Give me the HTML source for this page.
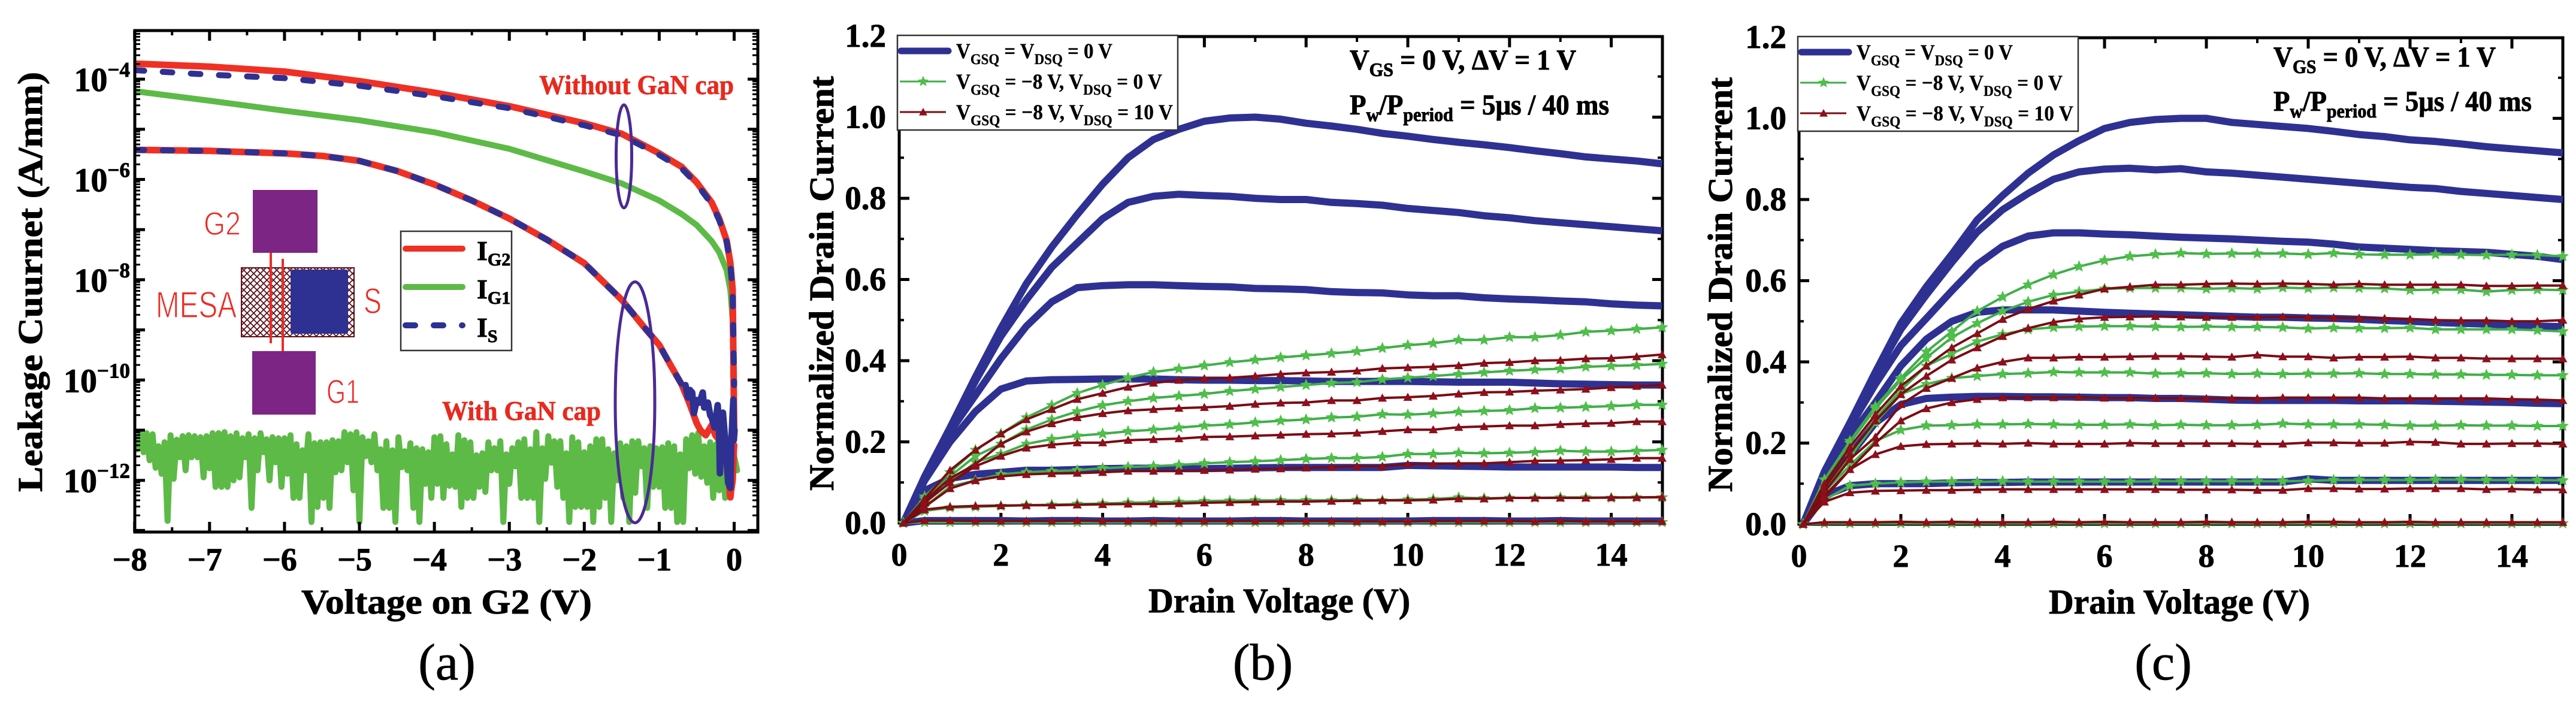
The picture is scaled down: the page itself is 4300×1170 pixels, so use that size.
<!DOCTYPE html>
<html lang="en">
<head>
<meta charset="utf-8">
<title>Leakage current and pulsed drain current characteristics</title>
<style>
html,body{margin:0;padding:0;background:#fff;width:4300px;height:1170px;overflow:hidden}
svg{display:block}
text{font-family:"Liberation Serif",serif;fill:#000}
.b{font-weight:bold;stroke:#000;stroke-width:0.9px}
.inset-text{font-family:"Liberation Sans",sans-serif;fill:#ee2a24;stroke:#fff;stroke-width:1.4px}
.red-note{fill:#e8291e;stroke:#e8291e;stroke-width:0.7px}
</style>
</head>
<body>
<svg id="fig" xmlns="http://www.w3.org/2000/svg" width="4300" height="1170" viewBox="0 0 4300 1170">
<defs>
<pattern id="hatch" width="11" height="11" patternUnits="userSpaceOnUse">
<rect width="11" height="11" fill="#fff"/>
<path d="M-1 1L1 -1M0 11L11 0M10 12L12 10M-1 10L1 12M0 0L11 11M10 -1L12 1" stroke="#5a0f18" stroke-width="1.8"/>
</pattern>
<clipPath id="clipA"><rect x="225" y="51" width="1040" height="837"/></clipPath>
</defs>
<g id="panelA"></g>
<g id="panelB"></g>
<g id="panelC"></g>

<g>
<rect x="422" y="317" width="108" height="105" fill="#7d2585"/>
<rect x="421" y="586" width="106" height="106" fill="#7d2585"/>
<rect x="403" y="447" width="188" height="115" fill="url(#hatch)" stroke="#5a0f18" stroke-width="2"/>
<rect x="485" y="450" width="96" height="107" rx="3" fill="#2e3192"/>
<line x1="452" y1="422" x2="452" y2="573" stroke="#ee2a24" stroke-width="4"/>
<line x1="472" y1="432" x2="472" y2="586" stroke="#ee2a24" stroke-width="4"/>
<text class="inset-text" x="260" y="530" font-size="62" textLength="135" lengthAdjust="spacingAndGlyphs">MESA</text>
<text class="inset-text" x="607" y="523" font-size="60" textLength="30" lengthAdjust="spacingAndGlyphs">S</text>
<text class="inset-text" x="545" y="673" font-size="57" textLength="55" lengthAdjust="spacingAndGlyphs">G1</text>
<text class="inset-text" x="340" y="392" font-size="55" textLength="62" lengthAdjust="spacingAndGlyphs">G2</text>
</g>

<text class="b red-note" x="900" y="157" font-size="45" textLength="325" lengthAdjust="spacingAndGlyphs">Without GaN cap</text>
<text class="b red-note" x="738" y="701" font-size="45" textLength="265" lengthAdjust="spacingAndGlyphs">With GaN cap</text>
<ellipse cx="1041.5" cy="261" rx="13" ry="86" fill="none" stroke="#4b2a96" stroke-width="5"/>
<ellipse cx="1060" cy="671.5" rx="33" ry="201" fill="none" stroke="#4b2a96" stroke-width="5"/>

<g>
<rect x="669" y="386" width="185" height="199" fill="#fff" stroke="#333" stroke-width="2.5"/>
<line x1="677" y1="415" x2="772" y2="415" stroke="#ee3124" stroke-width="10" stroke-linecap="round"/>
<line x1="677" y1="479" x2="772" y2="479" stroke="#5dba47" stroke-width="10" stroke-linecap="round"/>
<line x1="677" y1="543" x2="772" y2="543" stroke="#2e3192" stroke-width="10" stroke-linecap="round" stroke-dasharray="16 31"/>
<text class="b" x="796" y="434" font-size="46">I<tspan font-size="30" dy="9">G2</tspan></text>
<text class="b" x="796" y="498" font-size="46">I<tspan font-size="30" dy="9">G1</tspan></text>
<text class="b" x="796" y="562" font-size="46">I<tspan font-size="30" dy="9">S</tspan></text>
</g>

<text x="746" y="1134" font-size="86" text-anchor="middle" style="stroke:#000;stroke-width:0.8px">(a)</text>
<text x="2108" y="1134" font-size="86" text-anchor="middle" style="stroke:#000;stroke-width:0.8px">(b)</text>
<text x="3611" y="1134" font-size="86" text-anchor="middle" style="stroke:#000;stroke-width:0.8px">(c)</text>

<script>
// ---------- Panel (a) data: log10 of current (A/mm) ----------
const aTickVoltages = [-8,-7,-6,-5,-4,-3,-2,-1,0];
const aTickExponents = [-4,-6,-8,-10,-12];
const noCapVoltages = [-8,-7,-6,-5,-4,-3,-2,-1.5,-1,-0.7,-0.5,-0.3,-0.2,-0.1,-0.05,-0.02,0];
const noCapIG2 = [-3.69,-3.75,-3.85,-4.04,-4.27,-4.54,-4.88,-5.09,-5.48,-5.75,-6.06,-6.46,-6.78,-7.22,-7.67,-8.2,-11];
const noCapIS = [-3.82,-3.91,-3.98,-4.13,-4.34,-4.58,-4.92,-5.12,-5.51,-5.78,-6.09,-6.49,-6.81,-7.25,-7.7,-8.25,-10.1];
const noCapIG1 = [-4.24,-4.43,-4.63,-4.82,-5.06,-5.39,-5.84,-6.08,-6.42,-6.69,-6.91,-7.23,-7.45,-7.81,-8.21,-8.8,-10.1];
const capIG2Voltages = [-8,-7,-6,-5.5,-5,-4.5,-4,-3.5,-3,-2.5,-2,-1.5,-1.2,-1,-0.85,-0.7,-0.6,-0.5,-0.45,-0.38,-0.3,-0.25,-0.2,-0.1,-0.05,-0.04,-0.02,-0.005,0];
const capIG2 = [-5.41,-5.43,-5.48,-5.53,-5.63,-5.83,-6.1,-6.42,-6.78,-7.2,-7.67,-8.4,-8.95,-9.3,-9.7,-10.09,-10.45,-10.86,-11.0,-11.1,-10.9,-11.1,-11.2,-11.6,-12.34,-12.2,-12.0,-11.4,-11.3];
const capISVoltages = [-8,-7,-6,-5.5,-5,-4.5,-4,-3.5,-3,-2.5,-2,-1.5,-1.2,-1,-0.85,-0.7];
const capIS = [-5.41,-5.43,-5.48,-5.53,-5.63,-5.83,-6.1,-6.42,-6.78,-7.2,-7.67,-8.4,-8.95,-9.3,-9.7,-10.09];
const capISNoiseVoltages = [-0.65,-0.615,-0.59,-0.56,-0.536,-0.5,-0.46,-0.42,-0.4,-0.35,-0.32,-0.3,-0.26,-0.22,-0.2,-0.19,-0.17,-0.15,-0.12,-0.1,-0.08,-0.05,-0.04,-0.03,-0.01,-0.005,0.005];
const capISNoise = [-10.1,-10.35,-10.2,-10.25,-10.66,-10.4,-10.45,-10.25,-10.55,-10.45,-10.7,-10.75,-10.95,-10.5,-11.0,-11.86,-11.0,-10.65,-11.2,-11.6,-12.05,-12.15,-11.3,-11.0,-10.39,-11.2,-11.0];
const noiseStart = -8;
const noiseStep = 0.08;
const capIG1Upper = [-11.16,-11.06,-11.06,-11.08,-11.32,-11.24,-11.10,-11.19,-11.12,-11.10,-11.12,-11.14,-11.12,-11.06,-11.06,-11.04,-11.12,-11.06,-11.16,-11.08,-11.16,-11.06,-11.18,-11.14,-11.16,-11.16,-11.10,-11.28,-11.40,-11.08,-11.26,-11.24,-11.24,-11.20,-11.22,-11.04,-11.08,-11.04,-11.14,-11.22,-11.08,-11.38,-11.22,-11.40,-11.14,-11.42,-11.26,-11.36,-11.38,-11.44,-11.14,-11.12,-11.28,-11.48,-11.10,-11.2,-11.24,-11.5,-11.46,-11.24,-11.36,-11.22,-11.48,-11.36,-11.24,-11.18,-11.38,-11.04,-11.36,-11.12,-11.22,-11.22,-11.46,-11.14,-11.24,-11.44,-11.32,-11.18,-11.18,-11.38,-11.46,-11.26,-11.32,-11.22,-11.22,-11.36,-11.32,-11.36,-11.34,-11.26,-11.32,-11.48,-11.18,-11.10,-11.06,-11.32,-11.24,-11.28,-11.44,-11.52,-11.52];
const capIG1Lower = [-11.38,-11.44,-11.60,-11.75,-11.87,-12.81,-11.97,-11.54,-11.80,-11.54,-11.54,-11.94,-11.76,-12.13,-12.13,-12.13,-12.0,-11.94,-11.54,-12.55,-11.80,-11.44,-12.0,-11.64,-12.13,-11.87,-12.35,-12.35,-11.80,-12.83,-12.53,-12.35,-12.55,-11.84,-11.80,-11.64,-12.2,-12.83,-11.52,-11.64,-11.80,-12.55,-12.55,-12.83,-11.74,-11.80,-12.55,-12.83,-12.07,-12.35,-12.07,-12.35,-12.11,-12.13,-12.53,-12.35,-12.35,-12.13,-12.23,-11.80,-11.80,-12.83,-12.07,-11.72,-12.35,-12.35,-12.35,-12.83,-11.97,-11.65,-12.13,-12.35,-12.83,-12.53,-12.53,-12.53,-12.83,-12.53,-12.35,-12.83,-12.0,-12.35,-12.83,-12.25,-11.72,-12.55,-12.13,-12.13,-12.55,-12.55,-12.83,-12.83,-11.76,-11.87,-11.93,-12.05,-12.35,-12.2,-12.35,-12.2,-11.8];

// ---------- Panels (b),(c) shared categories ----------
const drainVoltages = [0.08,0.5,1,1.5,2,2.5,3,3.5,4,4.5,5,5.5,6,6.5,7,7.5,8,8.5,9,9.5,10,10.5,11,11.5,12,12.5,13,13.5,14,14.5,15];
const xTickLabels = [0,2,4,6,8,10,12,14];
const yTickLabels = ["0.0","0.2","0.4","0.6","0.8","1.0","1.2"];
const yTickValues = [0,0.2,0.4,0.6,0.8,1.0,1.2];

// ---------- Panel (b) ----------
const bBlue1 = [0,0.115,0.235,0.36,0.48,0.59,0.68,0.76,0.835,0.9,0.945,0.97,0.99,0.998,1.0,0.995,0.985,0.978,0.97,0.96,0.953,0.945,0.938,0.932,0.925,0.917,0.91,0.902,0.897,0.892,0.885];
const bBlue2 = [0,0.113,0.232,0.35,0.46,0.55,0.63,0.69,0.75,0.79,0.805,0.81,0.807,0.805,0.8,0.797,0.797,0.79,0.787,0.783,0.775,0.77,0.765,0.757,0.752,0.745,0.74,0.735,0.73,0.725,0.72];
const bBlue3 = [0,0.11,0.225,0.315,0.405,0.485,0.545,0.58,0.585,0.587,0.587,0.585,0.583,0.582,0.578,0.577,0.575,0.57,0.568,0.567,0.562,0.56,0.56,0.555,0.552,0.55,0.547,0.545,0.54,0.537,0.535];
const bBlue4 = [0,0.105,0.2,0.275,0.33,0.35,0.353,0.354,0.355,0.355,0.355,0.353,0.352,0.352,0.351,0.351,0.35,0.349,0.349,0.349,0.349,0.348,0.347,0.347,0.347,0.345,0.343,0.342,0.341,0.34,0.34];
const bBlue5 = [0,0.08,0.11,0.12,0.125,0.13,0.13,0.132,0.134,0.135,0.135,0.134,0.134,0.135,0.136,0.137,0.137,0.137,0.137,0.137,0.142,0.141,0.14,0.139,0.138,0.138,0.138,0.138,0.138,0.137,0.137];
const bBlue6 = [0,0.006,0.006,0.006,0.006,0.005,0.006,0.006,0.005,0.005,0.006,0.005,0.005,0.005,0.006,0.006,0.005,0.005,0.005,0.005,0.005,0.006,0.006,0.006,0.005,0.005,0.006,0.005,0.005,0.005,0.005];
const bGreen1 = [0,0.065,0.125,0.18,0.22,0.26,0.29,0.32,0.34,0.358,0.372,0.38,0.388,0.396,0.402,0.408,0.413,0.418,0.423,0.431,0.438,0.443,0.451,0.451,0.458,0.458,0.463,0.471,0.474,0.478,0.482];
const bGreen2 = [0,0.06,0.115,0.165,0.195,0.23,0.255,0.275,0.29,0.3,0.308,0.313,0.318,0.325,0.33,0.335,0.34,0.345,0.347,0.354,0.358,0.362,0.367,0.371,0.375,0.378,0.38,0.385,0.387,0.389,0.392];
const bGreen3 = [0,0.05,0.1,0.15,0.17,0.195,0.207,0.215,0.22,0.226,0.23,0.235,0.24,0.243,0.248,0.252,0.255,0.26,0.262,0.268,0.267,0.27,0.274,0.276,0.278,0.283,0.284,0.286,0.288,0.291,0.291];
const bGreen4 = [0,0.04,0.09,0.105,0.12,0.125,0.128,0.13,0.135,0.138,0.14,0.143,0.147,0.15,0.152,0.155,0.158,0.16,0.16,0.163,0.17,0.17,0.173,0.172,0.173,0.175,0.178,0.176,0.176,0.178,0.18];
const bGreen5 = [0,0.03,0.038,0.04,0.042,0.044,0.045,0.047,0.048,0.05,0.051,0.052,0.054,0.055,0.056,0.056,0.056,0.056,0.057,0.056,0.058,0.059,0.063,0.061,0.062,0.062,0.063,0.063,0.062,0.063,0.063];
const bGreen6 = [0,0.002,0.002,0.002,0.002,0.002,0.002,0.002,0.002,0.002,0.002,0.002,0.002,0.002,0.002,0.002,0.002,0.002,0.002,0.002,0.002,0.002,0.002,0.002,0.002,0.002,0.002,0.002,0.002,0.002,0.002];
const bRed1 = [0,0.06,0.13,0.18,0.22,0.255,0.28,0.305,0.32,0.335,0.345,0.352,0.356,0.358,0.362,0.367,0.37,0.372,0.375,0.381,0.383,0.385,0.388,0.394,0.396,0.4,0.401,0.405,0.406,0.41,0.415];
const bRed2 = [0,0.055,0.11,0.145,0.195,0.225,0.245,0.26,0.27,0.277,0.28,0.283,0.285,0.288,0.293,0.296,0.297,0.302,0.302,0.308,0.31,0.313,0.318,0.322,0.323,0.326,0.328,0.33,0.334,0.337,0.34];
const bRed3 = [0,0.05,0.1,0.14,0.165,0.185,0.193,0.198,0.198,0.204,0.206,0.208,0.212,0.213,0.215,0.217,0.219,0.22,0.222,0.226,0.23,0.23,0.236,0.238,0.24,0.24,0.243,0.245,0.246,0.25,0.25];
const bRed4 = [0,0.04,0.085,0.105,0.115,0.12,0.122,0.123,0.125,0.128,0.128,0.128,0.13,0.131,0.133,0.134,0.136,0.138,0.14,0.14,0.145,0.146,0.147,0.147,0.15,0.153,0.154,0.155,0.157,0.16,0.16];
const bRed5 = [0,0.033,0.04,0.042,0.043,0.044,0.044,0.045,0.046,0.047,0.047,0.048,0.05,0.051,0.052,0.053,0.053,0.054,0.055,0.056,0.056,0.057,0.06,0.06,0.062,0.062,0.062,0.062,0.063,0.063,0.064];
const bRed6 = [0,0.006,0.006,0.005,0.005,0.005,0.005,0.006,0.005,0.005,0.005,0.005,0.005,0.005,0.005,0.005,0.005,0.005,0.004,0.004,0.004,0.005,0.005,0.005,0.005,0.004,0.005,0.004,0.004,0.004,0.004];

// ---------- Panel (c) ----------
const cBlue1 = [0,0.13,0.25,0.375,0.495,0.585,0.665,0.75,0.81,0.865,0.91,0.945,0.975,0.99,0.997,1.0,1.0,0.99,0.985,0.98,0.975,0.968,0.96,0.955,0.947,0.943,0.937,0.93,0.925,0.92,0.915];
const cBlue2 = [0,0.13,0.25,0.37,0.48,0.565,0.645,0.72,0.775,0.815,0.85,0.868,0.875,0.877,0.873,0.876,0.868,0.865,0.86,0.855,0.85,0.845,0.84,0.835,0.83,0.827,0.82,0.815,0.81,0.805,0.8];
const cBlue3 = [0,0.125,0.24,0.345,0.44,0.507,0.575,0.64,0.685,0.71,0.718,0.718,0.715,0.713,0.71,0.707,0.705,0.703,0.7,0.697,0.695,0.69,0.683,0.68,0.677,0.674,0.672,0.67,0.665,0.66,0.652];
const cBlue4 = [0,0.115,0.215,0.3,0.39,0.456,0.5,0.522,0.528,0.528,0.528,0.525,0.522,0.52,0.518,0.516,0.514,0.512,0.51,0.51,0.508,0.507,0.505,0.502,0.5,0.497,0.495,0.493,0.49,0.488,0.487];
const cBlue5 = [0,0.09,0.17,0.25,0.295,0.31,0.313,0.315,0.315,0.314,0.314,0.313,0.312,0.312,0.31,0.31,0.308,0.306,0.305,0.305,0.305,0.305,0.304,0.304,0.304,0.303,0.302,0.301,0.3,0.298,0.297];
const cBlue6 = [0,0.07,0.095,0.1,0.1,0.1,0.102,0.103,0.103,0.104,0.104,0.104,0.104,0.104,0.104,0.104,0.104,0.104,0.104,0.104,0.112,0.108,0.108,0.108,0.108,0.108,0.108,0.108,0.108,0.108,0.108];
const cGreen1 = [0,0.11,0.205,0.29,0.36,0.425,0.475,0.525,0.56,0.59,0.615,0.635,0.65,0.66,0.665,0.668,0.666,0.667,0.667,0.667,0.665,0.668,0.665,0.664,0.664,0.665,0.664,0.663,0.664,0.663,0.66];
const cGreen2 = [0,0.11,0.2,0.285,0.355,0.41,0.46,0.495,0.525,0.548,0.565,0.573,0.58,0.582,0.582,0.582,0.58,0.582,0.58,0.583,0.581,0.583,0.582,0.581,0.577,0.578,0.578,0.573,0.577,0.578,0.577];
const cGreen3 = [0,0.09,0.17,0.26,0.33,0.39,0.42,0.45,0.468,0.48,0.485,0.487,0.488,0.488,0.487,0.486,0.487,0.486,0.486,0.485,0.482,0.484,0.483,0.483,0.484,0.48,0.48,0.48,0.48,0.478,0.475];
const cGreen4 = [0,0.085,0.165,0.25,0.32,0.345,0.36,0.365,0.37,0.372,0.375,0.374,0.374,0.374,0.371,0.372,0.372,0.37,0.371,0.37,0.371,0.371,0.372,0.37,0.37,0.369,0.369,0.368,0.368,0.367,0.367];
const cGreen5 = [0,0.08,0.145,0.205,0.232,0.243,0.244,0.246,0.246,0.247,0.246,0.245,0.245,0.246,0.244,0.245,0.244,0.244,0.245,0.248,0.246,0.246,0.246,0.245,0.243,0.243,0.244,0.243,0.243,0.242,0.242];
const cGreen6 = [0,0.06,0.095,0.1,0.103,0.105,0.105,0.104,0.106,0.105,0.105,0.105,0.105,0.105,0.106,0.106,0.106,0.106,0.106,0.106,0.107,0.109,0.109,0.109,0.109,0.11,0.11,0.109,0.109,0.109,0.108];
const cGreen7 = [0,0.002,0.002,0.002,0.002,0.002,0.002,0.002,0.002,0.002,0.002,0.002,0.002,0.002,0.002,0.002,0.002,0.002,0.002,0.002,0.002,0.002,0.002,0.002,0.002,0.002,0.002,0.002,0.002,0.002,0.002];
const cRed1 = [0,0.1,0.19,0.27,0.34,0.39,0.435,0.47,0.505,0.53,0.55,0.565,0.58,0.585,0.59,0.59,0.592,0.593,0.592,0.593,0.592,0.59,0.592,0.59,0.59,0.59,0.59,0.587,0.587,0.588,0.588];
const cRed2 = [0,0.09,0.175,0.255,0.32,0.365,0.405,0.435,0.463,0.483,0.498,0.506,0.51,0.511,0.512,0.511,0.51,0.51,0.51,0.511,0.51,0.509,0.508,0.507,0.505,0.503,0.502,0.502,0.5,0.5,0.503];
const cRed3 = [0,0.08,0.16,0.215,0.295,0.335,0.36,0.385,0.4,0.41,0.41,0.412,0.412,0.413,0.414,0.414,0.413,0.412,0.417,0.413,0.413,0.41,0.412,0.412,0.413,0.41,0.41,0.408,0.408,0.408,0.408];
const cRed4 = [0,0.07,0.135,0.2,0.255,0.285,0.3,0.308,0.312,0.312,0.312,0.313,0.311,0.311,0.311,0.31,0.31,0.31,0.31,0.312,0.312,0.312,0.312,0.31,0.31,0.31,0.31,0.31,0.308,0.307,0.305];
const cRed5 = [0,0.065,0.135,0.172,0.192,0.197,0.198,0.199,0.198,0.2,0.198,0.198,0.198,0.2,0.199,0.199,0.199,0.199,0.198,0.198,0.201,0.201,0.2,0.2,0.203,0.202,0.198,0.198,0.199,0.199,0.198];
const cRed6 = [0,0.055,0.078,0.082,0.083,0.084,0.084,0.085,0.086,0.086,0.086,0.086,0.086,0.086,0.086,0.085,0.085,0.085,0.084,0.084,0.088,0.088,0.087,0.087,0.088,0.088,0.088,0.086,0.087,0.085,0.085];
const cRed7 = [0,0.005,0.005,0.005,0.006,0.005,0.006,0.005,0.005,0.005,0.006,0.005,0.006,0.005,0.005,0.005,0.006,0.005,0.005,0.005,0.006,0.006,0.005,0.005,0.006,0.005,0.005,0.005,0.005,0.005,0.005];

const SVGNS = "http://www.w3.org/2000/svg";
function mk(tag, parent, attrs, txt) {
  const el = document.createElementNS(SVGNS, tag);
  for (const k in attrs) el.setAttribute(k, attrs[k]);
  if (txt !== undefined) el.textContent = txt;
  parent.appendChild(el);
  return el;
}
function named(el, name) {
  
  
  return el;
}
function tick(parent, x1, y1, x2, y2, w, name) {
  const el = mk('line', parent, {x1:x1, y1:y1, x2:x2, y2:y2, stroke:'#000', 'stroke-width':w});
  
  
}
function frame(parent, L, T, R, B) {
  const el = mk('rect', parent, {x:L, y:T, width:R-L, height:B-T, fill:'none', stroke:'#000', 'stroke-width':5});
  
  
}
function polyPoints(xs, ys, sx, sy) {
  return xs.map((v, i) => sx(v).toFixed(1) + ',' + sy(ys[i]).toFixed(1)).join(' ');
}

// ---------- Draw panel (a) ----------
(function () {
  const g = document.getElementById('panelA');
  const L = 225, R = 1265, T = 51, B = 888;
  const sx = v => 1225.5 + v * 125.1;
  const sy = e => 801.7 - (e + 12) * 83.7;
  const curves = mk('g', g, {'clip-path':'url(#clipA)'});
  named(curves, 'leakage-curves');

  const noisePts = [];
  capIG1Upper.forEach((u, i) => {
    const v = noiseStart + i * noiseStep;
    noisePts.push(sx(v).toFixed(1) + ',' + sy(u).toFixed(1));
    noisePts.push(sx(v + noiseStep / 2).toFixed(1) + ',' + sy(capIG1Lower[i]).toFixed(1));
  });
  const lineStyle = {fill:'none', 'stroke-linejoin':'round', 'stroke-linecap':'round'};
  const noise = mk('polyline', curves, Object.assign({points:noisePts.join(' '), stroke:'#5dba47', 'stroke-width':10}, lineStyle));
  named(noise, 'ig1-with-cap-noise');
  const ig1 = mk('polyline', curves, Object.assign({points:polyPoints(noCapVoltages, noCapIG1, sx, sy), stroke:'#5dba47', 'stroke-width':10}, lineStyle));
  named(ig1, 'ig1-without-cap');
  const ig2 = mk('polyline', curves, Object.assign({points:polyPoints(noCapVoltages, noCapIG2, sx, sy), stroke:'#ee3124', 'stroke-width':11}, lineStyle));
  named(ig2, 'ig2-without-cap');
  const ig2c = mk('polyline', curves, Object.assign({points:polyPoints(capIG2Voltages, capIG2, sx, sy), stroke:'#ee3124', 'stroke-width':11}, lineStyle));
  named(ig2c, 'ig2-with-cap');
  const is1 = mk('polyline', curves, Object.assign({points:polyPoints(noCapVoltages, noCapIS, sx, sy), stroke:'#2e3192', 'stroke-width':10, 'stroke-dasharray':'16 31'}, lineStyle));
  named(is1, 'is-without-cap');
  const is2 = mk('polyline', curves, Object.assign({points:polyPoints(capISVoltages, capIS, sx, sy), stroke:'#2e3192', 'stroke-width':10, 'stroke-dasharray':'16 31'}, lineStyle));
  named(is2, 'is-with-cap');
  const is3 = mk('polyline', curves, Object.assign({points:polyPoints(capISNoiseVoltages, capISNoise, sx, sy), stroke:'#2e3192', 'stroke-width':11}, lineStyle));
  named(is3, 'is-with-cap-noise');

  frame(g, L, T, R, B);
  for (let v = -8; v <= 0; v += 0.5) {
    const major = Number.isInteger(v);
    tick(g, sx(v), B, sx(v), B - (major ? 17 : 8), major ? 5 : 4, 'x-tick');
    tick(g, sx(v), T, sx(v), T + (major ? 17 : 8), major ? 5 : 4, 'x-tick-top');
  }
  for (let d = -13; d <= -3; d++) {
    [L, R].forEach((ax, side) => {
      const dir = side === 0 ? 1 : -1;
      if (sy(d) <= B && sy(d) >= T) tick(g, ax, sy(d), ax + dir * 17, sy(d), 5, 'y-tick');
      [2,3,4,5,6,7,8,9].forEach(m => {
        const y = sy(d + Math.log10(m));
        if (y <= B && y >= T) tick(g, ax, y, ax + dir * 9, y, 3, 'y-minor-tick');
      });
    });
  }
  aTickVoltages.forEach(v => {
    const t = mk('text', g, {x:sx(v) - (v < 0 ? 8 : 0), y:952, 'font-size':54, 'text-anchor':'middle', class:'b'}, v < 0 ? '\u2212' + (-v) : String(v));
    named(t, 'x-tick-label');
  });
  aTickExponents.forEach(e => {
    const t = mk('text', g, {x:217, y:sy(e) + 20, 'font-size':56, 'text-anchor':'end', class:'b'});
    named(t, 'y-tick-label');
    t.appendChild(document.createTextNode('10'));
    const s = mk('tspan', t, {'font-size':35, dy:-24}, '\u2212' + (-e));
    
    
  });
  const xt = mk('text', g, {x:503, y:1024, 'font-size':58, class:'b', textLength:485, lengthAdjust:'spacingAndGlyphs'}, 'Voltage on G2 (V)');
  named(xt, 'x-axis-title');
  const yt = mk('text', g, {transform:'translate(70 821) rotate(-90)', 'font-size':58, class:'b', textLength:701, lengthAdjust:'spacingAndGlyphs'}, 'Leakage Cuurnet (A/mm)');
  named(yt, 'y-axis-title');
})();

// ---------- Draw panels (b), (c) ----------
function starPath(cx, cy, R) {
  let d = '';
  for (let i = 0; i < 10; i++) {
    const r = i % 2 ? R * 0.45 : R;
    const a = -Math.PI / 2 + i * Math.PI / 5;
    d += (i ? 'L' : 'M') + (cx + r * Math.cos(a)).toFixed(1) + ' ' + (cy + r * Math.sin(a)).toFixed(1);
  }
  return d + 'Z';
}
function triPath(cx, cy, s) {
  return 'M' + cx + ' ' + (cy - s) + 'L' + (cx + s) + ' ' + (cy + s * 0.8) + 'L' + (cx - s) + ' ' + (cy + s * 0.8) + 'Z';
}
function drawDrainPanel(cfg) {
  const g = cfg.g;
  const sx = v => cfg.x0 + v * cfg.xs;
  const sy = v => cfg.B - v * 677.5;
  frame(g, cfg.L, cfg.T, cfg.R, cfg.B);
  for (let v = 0; v <= 15; v++) {
    const major = v % 2 === 0;
    if (v > 0 && v < 15) {
      tick(g, sx(v), cfg.B, sx(v), cfg.B - (major ? 17 : 8), major ? 5 : 4, 'x-tick');
      tick(g, sx(v), cfg.T, sx(v), cfg.T + (major ? 18 : 9), major ? 5 : 4, 'x-tick-top');
    }
  }
  for (let i = 1; i < 12; i++) {
    const y = sy(i / 10);
    const major = i % 2 === 0;
    tick(g, cfg.L, y, cfg.L + (major ? 17 : 8), y, major ? 5 : 4, 'y-tick');
    tick(g, cfg.R, y, cfg.R - (major ? 17 : 8), y, major ? 5 : 4, 'y-tick-right');
  }
  cfg.blue.forEach(s => {
    const p = mk('polyline', g, {points:polyPoints(drainVoltages, s, sx, sy), fill:'none', stroke:'#2e3192', 'stroke-width':12, 'stroke-linejoin':'round'});
    named(p, 'curve-unstressed');
  });
  cfg.green.forEach(s => {
    const p = mk('polyline', g, {points:polyPoints(drainVoltages, s, sx, sy), fill:'none', stroke:'#3fae49', 'stroke-width':4});
    named(p, 'curve-gate-stress');
    s.forEach((val, i) => {
      const m = mk('path', g, {d:starPath(sx(drainVoltages[i]), sy(val), 10.5), fill:'#4fbf4a'});
      
      
    });
  });
  cfg.red.forEach(s => {
    const p = mk('polyline', g, {points:polyPoints(drainVoltages, s, sx, sy), fill:'none', stroke:'#7a0c14', 'stroke-width':4});
    named(p, 'curve-gate-drain-stress');
    s.forEach((val, i) => {
      const m = mk('path', g, {d:triPath(sx(drainVoltages[i]), sy(val), 7.5), fill:'#8f0f1c'});
      
      
    });
  });
  xTickLabels.forEach(v => {
    const t = mk('text', g, {x:sx(v), y:cfg.B + 71, 'font-size':54, 'text-anchor':'middle', class:'b'}, String(v));
    named(t, 'x-tick-label');
  });
  yTickLabels.forEach((lab, i) => {
    const t = mk('text', g, {x:cfg.labelX, y:sy(yTickValues[i]) + 18, 'font-size':55, 'text-anchor':'end', class:'b'}, lab);
    named(t, 'y-tick-label');
  });
  const xt = mk('text', g, {x:cfg.titleX, y:cfg.titleY, 'font-size':58, class:'b', textLength:cfg.titleW, lengthAdjust:'spacingAndGlyphs'}, 'Drain Voltage (V)');
  named(xt, 'x-axis-title');
  const yt = mk('text', g, {transform:'translate(' + cfg.yTitleX + ' ' + cfg.yTitleY + ') rotate(-90)', 'font-size':58, class:'b', textLength:692, lengthAdjust:'spacingAndGlyphs'}, 'Normalized Drain Current');
  named(yt, 'y-axis-title');

  // legend
  const lx = cfg.legX;
  const lg = mk('g', g, {});
  named(lg, 'legend');
  const box = mk('rect', lg, {x:lx, y:cfg.T - 2, width:468, height:158, fill:'#fff', stroke:'#333', 'stroke-width':2.5});
  named(box, 'legend-frame');
  const by = cfg.T - 2;
  const l1 = mk('line', lg, {x1:lx + 6, y1:by + 26, x2:lx + 85, y2:by + 26, stroke:'#2e3192', 'stroke-width':11, 'stroke-linecap':'round'});
  named(l1, 'legend-line-unstressed');
  const l2 = mk('line', lg, {x1:lx + 4, y1:by + 77, x2:lx + 81, y2:by + 77, stroke:'#3fae49', 'stroke-width':3});
  named(l2, 'legend-line-gate-stress');
  const m2 = mk('path', lg, {d:starPath(lx + 43, by + 77, 9.5), fill:'#4fbf4a'});
  named(m2, 'legend-marker-star');
  const l3 = mk('line', lg, {x1:lx + 4, y1:by + 128, x2:lx + 81, y2:by + 128, stroke:'#7a0c14', 'stroke-width':3});
  named(l3, 'legend-line-gate-drain-stress');
  const m3 = mk('path', lg, {d:triPath(lx + 43, by + 128, 7), fill:'#8f0f1c'});
  named(m3, 'legend-marker-triangle');

  const rows = [
    {y:by + 38, w:261, parts:[['V',0],['GSQ',1],[' = V',0],['DSQ',1],[' = 0 V',0]]},
    {y:by + 89, w:344, parts:[['V',0],['GSQ',1],[' = \u22128 V, V',0],['DSQ',1],[' = 0 V',0]]},
    {y:by + 140, w:362, parts:[['V',0],['GSQ',1],[' = \u22128 V, V',0],['DSQ',1],[' = 10 V',0]]}
  ];
  rows.forEach(row => {
    const t = mk('text', lg, {x:lx + 98, y:row.y, 'font-size':36, class:'b', textLength:row.w, lengthAdjust:'spacingAndGlyphs', style:'stroke-width:0.3px'});
    named(t, 'legend-label');
    let sub = false;
    row.parts.forEach(p => {
      const isSub = p[1] === 1;
      const attrs = {};
      if (isSub) { attrs['font-size'] = 25; attrs.dy = 10; }
      else if (sub) { attrs.dy = -10; }
      mk('tspan', t, attrs, p[0]);
      sub = isSub;
    });
  });
  // annotation
  const a1 = mk('text', g, {x:cfg.noteX, y:cfg.noteY1, 'font-size':48, class:'b', textLength:cfg.noteW1, lengthAdjust:'spacingAndGlyphs'});
  named(a1, 'bias-annotation');
  mk('tspan', a1, {}, 'V');
  mk('tspan', a1, {'font-size':32, dy:11}, 'GS');
  mk('tspan', a1, {dy:-11}, ' = 0 V, \u0394V = 1 V');
  const a2 = mk('text', g, {x:cfg.noteX, y:cfg.noteY2, 'font-size':48, class:'b', textLength:cfg.noteW2, lengthAdjust:'spacingAndGlyphs'});
  named(a2, 'pulse-annotation');
  mk('tspan', a2, {}, 'P');
  mk('tspan', a2, {'font-size':32, dy:11}, 'w');
  mk('tspan', a2, {dy:-11}, '/P');
  mk('tspan', a2, {'font-size':32, dy:11}, 'period');
  mk('tspan', a2, {dy:-11}, ' = 5\u03bcs / 40 ms');
}
drawDrainPanel({
  g:document.getElementById('panelB'), x0:1501, xs:84.9, L:1501, R:2775, T:61, B:873,
  blue:[bBlue6,bBlue5,bBlue4,bBlue3,bBlue2,bBlue1], green:[bGreen1,bGreen2,bGreen3,bGreen4,bGreen5,bGreen6], red:[bRed1,bRed2,bRed3,bRed4,bRed5,bRed6],
  labelX:1479, titleX:1917, titleY:1022, titleW:437, yTitleX:1391, yTitleY:819, legX:1498,
  noteX:2253, noteY1:116, noteW1:378, noteY2:191, noteW2:433
});
drawDrainPanel({
  g:document.getElementById('panelC'), x0:3003, xs:85, L:3003, R:4278, T:63, B:875,
  blue:[cBlue6,cBlue5,cBlue4,cBlue3,cBlue2,cBlue1], green:[cGreen1,cGreen2,cGreen3,cGreen4,cGreen5,cGreen6,cGreen7], red:[cRed1,cRed2,cRed3,cRed4,cRed5,cRed6,cRed7],
  labelX:2982, titleX:3420, titleY:1024, titleW:436, yTitleX:2891, yTitleY:821, legX:3001,
  noteX:3795, noteY1:111, noteW1:371, noteY2:185, noteW2:431
});
</script>
</svg>
</body>
</html>
